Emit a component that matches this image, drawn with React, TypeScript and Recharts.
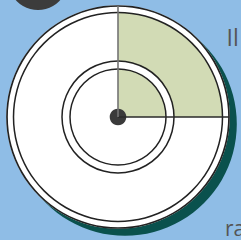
import React from "react";
import { PieChart, Pie, Cell } from "recharts";

// share of the dial that is highlighted (top-right quarter) vs the rest
const dialShare = [
  { name: "highlight", value: 25 },
  { name: "rest", value: 75 },
];
const dialColors = ["#d2dbb5", "transparent"];

// spokes sit on the start angle of each dial sector
const spokeColors = ["#2a2a2a", "#747474"];

const single = [{ name: "disc", value: 1 }];

const captionTop = "Il";
const captionBottom = "ra";

const W = 241;
const H = 240;
const CX = 118;
const CY = 117;
const R_OUTER = 111;
const R_DIAL = 104.5;
const R_RING_OUT = 56;
const R_RING_IN = 48;
const EDGE = "#222222";

function renderSpoke(props: any) {
  const { cx, cy, startAngle, index } = props;
  const rad = (startAngle * Math.PI) / 180;
  return (
    <line
      key={`spoke-${index}`}
      x1={cx}
      y1={cy}
      x2={cx + R_OUTER * Math.cos(rad)}
      y2={cy - R_OUTER * Math.sin(rad)}
      stroke={spokeColors[index]}
      strokeWidth={1.6}
    />
  );
}

function Ring({ r, w = 1.5 }: { r: number; w?: number }) {
  return null;
}

export default function App() {
  const ring = (r: number, key: string, w = 1.5) => (
    <Pie
      key={key}
      data={single}
      dataKey="value"
      cx={CX}
      cy={CY}
      innerRadius={r - w / 2}
      outerRadius={r + w / 2}
      fill={EDGE}
      stroke="none"
      isAnimationActive={false}
    />
  );

  return (
    <div style={{ position: "absolute", left: 0, top: 0, width: W, height: H, background: "#8fbde6", overflow: "hidden" }}>
      <PieChart width={W} height={H} margin={{ top: 0, right: 0, bottom: 0, left: 0 }}>
        {/* dark blob peeking in at the top-left */}
        <Pie data={single} dataKey="value" cx={38} cy={-20} outerRadius={30} fill="#3c3c3c" stroke="none" isAnimationActive={false} />
        {/* drop shadow */}
        <Pie data={single} dataKey="value" cx={CX + 7} cy={CY + 7} outerRadius={R_OUTER + 0.8} fill="#0a514d" stroke="none" isAnimationActive={false} />
        {/* white disc */}
        <Pie data={single} dataKey="value" cx={CX} cy={CY} outerRadius={R_OUTER + 0.8} fill="#ffffff" stroke="none" isAnimationActive={false} />
        {/* highlighted quarter */}
        <Pie data={dialShare} dataKey="value" cx={CX} cy={CY} outerRadius={R_DIAL} startAngle={0} endAngle={360} stroke="none" isAnimationActive={false}>
          {dialShare.map((d, i) => (
            <Cell key={d.name} fill={dialColors[i]} />
          ))}
        </Pie>
        {/* white band between the middle rings */}
        <Pie data={single} dataKey="value" cx={CX} cy={CY} innerRadius={R_RING_IN} outerRadius={R_RING_OUT} fill="#ffffff" stroke="none" isAnimationActive={false} />
        {ring(R_OUTER, "r1", 1.7)}
        {ring(R_DIAL, "r2", 1.5)}
        {ring(R_RING_OUT, "r3", 1.5)}
        {ring(R_RING_IN, "r4", 1.5)}
        {/* spokes */}
        <Pie
          data={dialShare}
          dataKey="value"
          cx={CX}
          cy={CY}
          outerRadius={R_OUTER}
          startAngle={0}
          endAngle={360}
          fill="none"
          stroke="none"
          label={renderSpoke}
          labelLine={false}
          isAnimationActive={false}
        />
        {/* hub */}
        <Pie data={single} dataKey="value" cx={CX} cy={CY} outerRadius={8.3} fill="#3a3a3a" stroke="none" isAnimationActive={false} />
      </PieChart>
      <svg width={W} height={H} style={{ position: "absolute", left: 0, top: 0 }}>
        <text x={226.5} y={45.5} fontFamily="'Open Sans'" fontSize={23} fill="#555555">
          {captionTop}
        </text>
        <text x={225} y={236} fontFamily="'Open Sans'" fontSize={21} fill="#555555">
          {captionBottom}
        </text>
      </svg>
    </div>
  );
}
